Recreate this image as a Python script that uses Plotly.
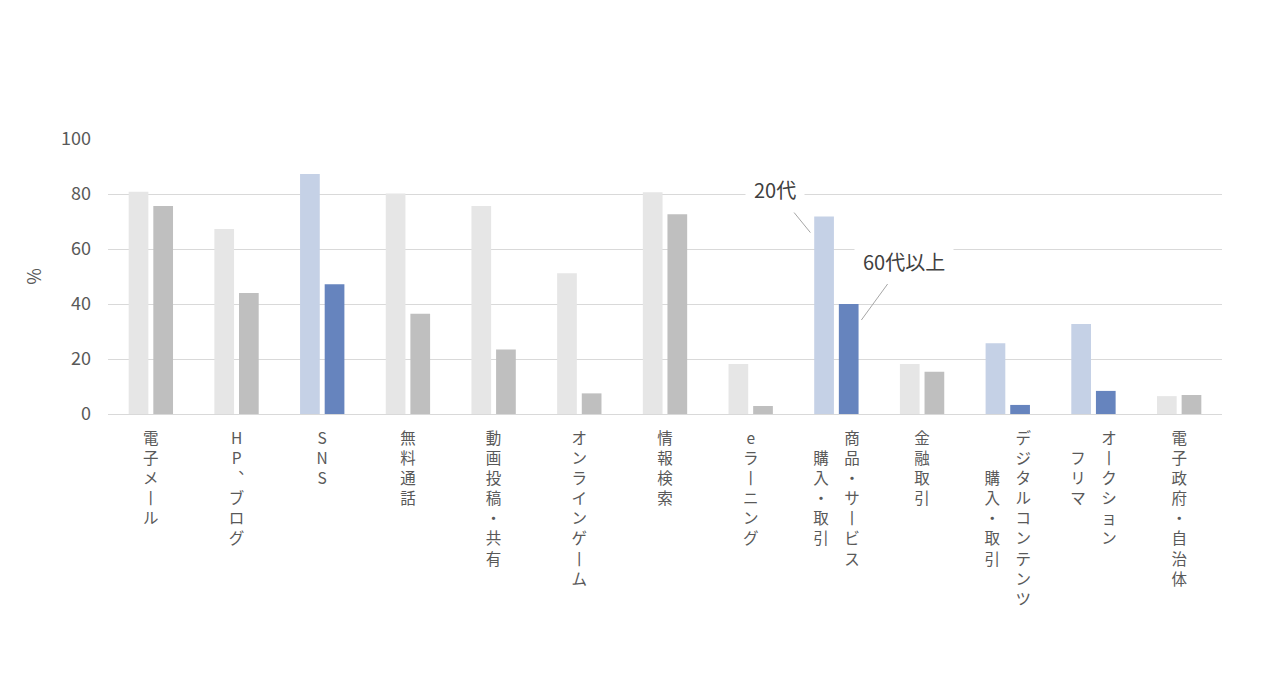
import plotly.graph_objects as go

categories = ["電子メール", "HP、ブログ", "SNS", "無料通話", "動画投稿・共有", "オンラインゲーム",
              "情報検索", "eラーニング", "商品・サービス購入・取引", "金融取引",
              "デジタルコンテンツ購入・取引", "オークションフリマ", "電子政府・自治体"]
label_columns = [["電子メール"], ["HP、ブログ"], ["SNS"], ["無料通話"], ["動画投稿・共有"],
                 ["オンラインゲーム"], ["情報検索"], ["eラーニング"], ["商品・サービス", "購入・取引"],
                 ["金融取引"], ["デジタルコンテンツ", "購入・取引"], ["オークション", "フリマ"],
                 ["電子政府・自治体"]]
age20 = [80.8, 67.3, 87.3, 80.2, 75.6, 51.2, 80.6, 18.2, 71.8, 18.2, 25.7, 32.7, 6.5]
age60 = [75.6, 44.0, 47.2, 36.5, 23.5, 7.5, 72.6, 2.9, 40.0, 15.4, 3.3, 8.4, 6.9]
highlight = [False, False, True, False, False, False, False, False, True, False, True, True, False]
y_ticks = [0, 20, 40, 60, 80, 100]
series_names = ["20代", "60代以上"]

COL20 = {"hi": "#c5d1e6", "lo": "#e6e6e6"}
COL60 = {"hi": "#6684be", "lo": "#bfbfbf"}
VMAP = {"ー": "丨", "、": "︑"}
FONT = "Noto Sans CJK JP, Noto Sans, sans-serif"


def vlabel(cols):
    cols = [[VMAP.get(c, c) for c in col] for col in cols]
    if len(cols) == 1:
        return "<br>".join(cols[0])
    n = max(len(c) for c in cols)
    padded = []
    for col in cols:
        off = (n - len(col)) // 2
        padded.append(["　"] * off + col + ["　"] * (n - off - len(col)))
    rows = ["　".join(col[i] for col in reversed(padded)) for i in range(n)]
    return "<br>".join(rows)


ticktext = [vlabel(c) for c in label_columns]

fig = go.Figure()
fig.add_trace(go.Bar(x=categories, y=age20, name=series_names[0],
                     marker=dict(color=[COL20["hi"] if h else COL20["lo"] for h in highlight], line=dict(width=0))))
fig.add_trace(go.Bar(x=categories, y=age60, name=series_names[1],
                     marker=dict(color=[COL60["hi"] if h else COL60["lo"] for h in highlight], line=dict(width=0))))

idx = 8
fig.add_annotation(x=categories[idx], y=age20[idx], xref="x", yref="y", xshift=-26, yshift=-16,
                   ax=-35, ay=-43, showarrow=True, arrowhead=0, arrowwidth=1, arrowcolor="#a6a6a6",
                   text=series_names[0], font=dict(size=20, color="#404040", family=FONT),
                   bgcolor="white", borderpad=8)
fig.add_annotation(x=categories[idx], y=age60[idx], xref="x", yref="y", xshift=25, yshift=-16,
                   ax=43, ay=-59, showarrow=True, arrowhead=0, arrowwidth=1, arrowcolor="#a6a6a6",
                   text=series_names[1], font=dict(size=20, color="#404040", family=FONT),
                   bgcolor="white", borderpad=8)

fig.update_layout(
    width=1280, height=686,
    margin=dict(l=108, r=58, t=139, b=272, autoexpand=False),
    plot_bgcolor="white", paper_bgcolor="white",
    barmode="group", bargap=0.425, bargroupgap=0.2,
    font=dict(family=FONT, color="#595959"),
    showlegend=False,
)
fig.update_xaxes(type="category", tickmode="array", tickvals=categories, ticktext=ticktext,
                 tickangle=0, tickfont=dict(size=15.5, color="#595959"), showline=True,
                 linecolor="#d9d9d9", linewidth=1, ticks="", showgrid=False, automargin=False,
                 ticklabelstandoff=10)
fig.update_yaxes(range=[0, 100], tickmode="array", tickvals=y_ticks, gridcolor="#d9d9d9",
                 gridwidth=1, showline=False, zeroline=False, ticks="", ticklabelstandoff=16,
                 tickfont=dict(size=18, color="#595959"), automargin=False,
                 title=dict(text="%", font=dict(size=18, color="#595959"), standoff=14))

fig.write_html("out.html")
